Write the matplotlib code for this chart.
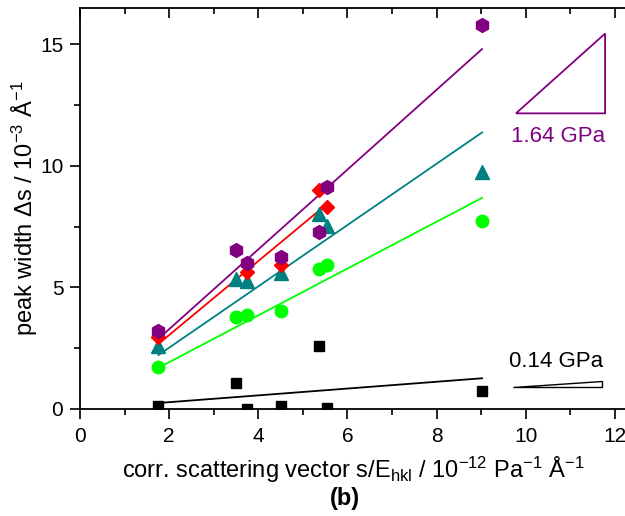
import numpy as np
import matplotlib
matplotlib.use("Agg")
import matplotlib.pyplot as plt
from matplotlib.patches import Polygon
from matplotlib.ticker import MultipleLocator

plt.rcParams['font.family'] = ['Liberation Sans', 'DejaVu Sans']
plt.rcParams['mathtext.default'] = 'regular'

# corrected scattering vector positions (10^-12 Pa^-1 A^-1)
x_purple = [1.76, 3.51, 3.74, 4.51, 5.36, 5.53, 9.02]
y_purple = [3.22, 6.53, 6.01, 6.23, 7.26, 9.14, 15.78]

x_red = [1.74, 3.74, 4.51, 5.36, 5.53]
y_red = [2.95, 5.62, 5.92, 9.00, 8.29]

x_teal = [1.76, 3.51, 3.74, 4.51, 5.36, 5.53, 9.02]
y_teal = [2.60, 5.36, 5.26, 5.58, 8.00, 7.53, 9.73]

x_green = [1.76, 3.51, 3.74, 4.51, 5.36, 5.53, 9.02]
y_green = [1.74, 3.77, 3.86, 4.04, 5.77, 5.90, 7.71]

x_black = [1.76, 3.51, 3.74, 4.51, 5.36, 5.53, 9.02]
y_black = [0.14, 1.08, 0.01, 0.14, 2.60, 0.05, 0.73]

# fitted slopes (GPa), lines through origin
slope_purple = 1.64
slope_red = 1.52
slope_teal = 1.26
slope_green = 0.962
slope_black = 0.14

PURPLE = '#800080'
RED = '#ff0000'
TEAL = '#008080'
GREEN = '#00ff00'
FS = 17
TFS = 15

fig = plt.figure(figsize=(6.25, 5.16), dpi=100)
ax = fig.add_axes([80 / 625, 107 / 516, 546.5 / 625, 401 / 516])


def fit_line(xs, k, color):
    xx = np.array([min(xs), max(xs)])
    ax.plot(xx, k * xx, color=color, lw=1.3, zorder=2)


fit_line(x_black, slope_black, 'black')
fit_line(x_green, slope_green, GREEN)
fit_line(x_teal, slope_teal, TEAL)
fit_line(x_red, slope_red, RED)
fit_line(x_purple, slope_purple, PURPLE)

ax.plot(x_black, y_black, 's', color='black', ms=7.5, ls='none', zorder=3)
ax.plot(x_green, y_green, 'o', color=GREEN, ms=9, ls='none', zorder=3)
ax.plot(x_teal, y_teal, '^', color=TEAL, ms=9.5, ls='none', zorder=3)
ax.plot(x_red, y_red, 'D', color=RED, ms=7.5, ls='none', zorder=4)
ax.plot(x_purple, y_purple, 'h', color=PURPLE, ms=10, ls='none', zorder=5)

# slope triangles
x0, x1 = 9.78, 11.78
ax.add_patch(Polygon([[x0, 12.15], [x1, 12.15], [x1, 12.15 + slope_purple * (x1 - x0)]],
                     closed=True, fill=False, edgecolor=PURPLE, lw=1.3))
ax.text(10.72, 11.2, '1.64 GPa', color=PURPLE, fontsize=16, ha='center', va='center')

ax.add_patch(Polygon([[9.72, 0.89], [11.7, 0.89], [11.7, 0.89 + slope_black * (11.7 - 9.72)]],
                     closed=True, facecolor='white', edgecolor='black', lw=1.0))
ax.text(10.69, 1.94, '0.14 GPa', color='black', fontsize=16, ha='center', va='center')

ax.set_xlim(0, 12.26)
ax.set_ylim(0, 16.48)
ax.xaxis.set_major_locator(MultipleLocator(2))
ax.xaxis.set_minor_locator(MultipleLocator(1))
ax.yaxis.set_major_locator(MultipleLocator(5))
ax.yaxis.set_minor_locator(MultipleLocator(2.5))

ax.tick_params(which='both', top=True, right=True, labelsize=TFS, width=1.2, pad=5)
ax.tick_params(axis='x', pad=6)
ax.tick_params(which='major', length=7)
ax.tick_params(which='minor', length=4)
ax.tick_params(axis='x', which='both', bottom=True, direction='out')
ax.tick_params(axis='y', which='both', left=True, direction='out')
for t in ax.xaxis.get_ticklines(minor=False)[1::2] + ax.xaxis.get_ticklines(minor=True)[1::2]:
    t.set_marker(3)
for t in ax.yaxis.get_ticklines(minor=False)[1::2] + ax.yaxis.get_ticklines(minor=True)[1::2]:
    t.set_marker(1)
for s in ax.spines.values():
    s.set_linewidth(1.3)

ax.set_xlabel('corr. scattering vector s/E$_{hkl}$ / 10$^{-12}$ Pa$^{-1}$ Å$^{-1}$', fontsize=FS, labelpad=6)
ax.set_ylabel('peak width Δs / 10$^{-3}$ Å$^{-1}$', fontsize=FS, labelpad=0)
fig.text(0.552, 0.034, '(b)', fontsize=FS, fontweight='bold', ha='center', va='center')

fig.savefig('out.png', dpi=100)
